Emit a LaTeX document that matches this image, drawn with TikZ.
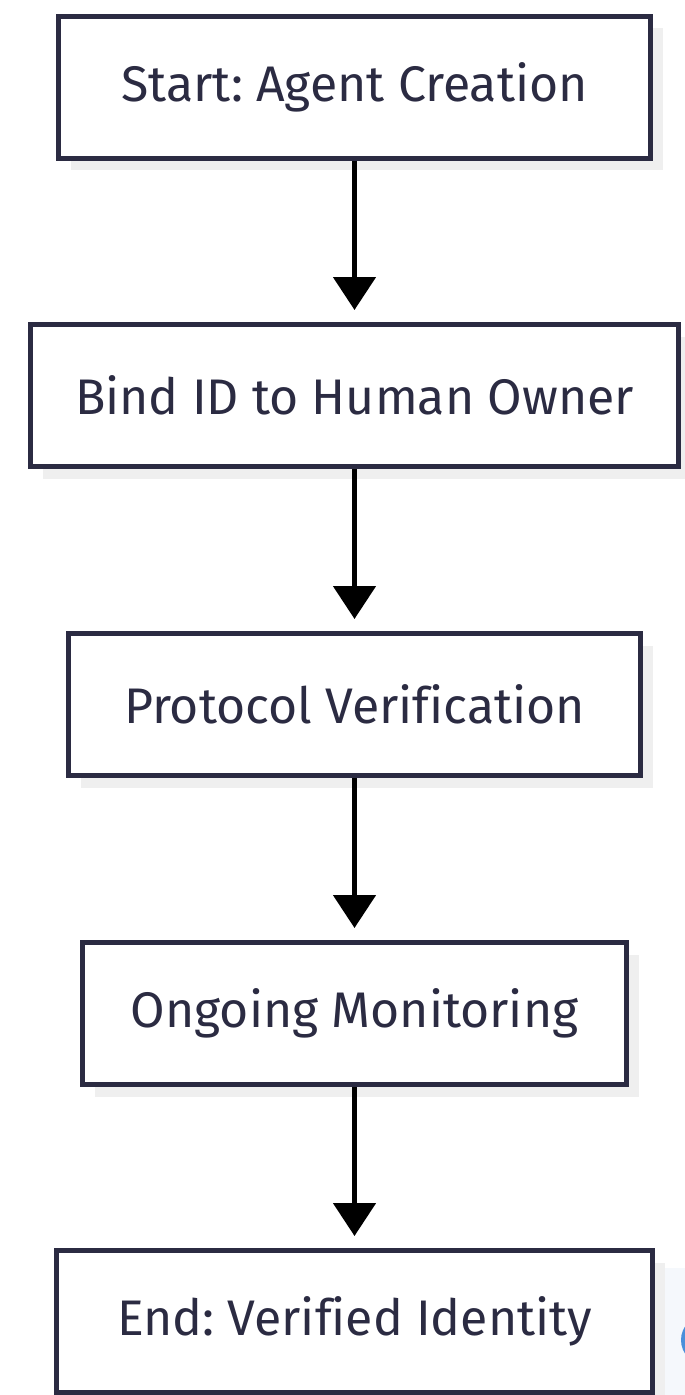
\documentclass[tikz,border=0pt]{standalone}
\usepackage{fontspec}
\setmainfont[Ligatures=NoCommon]{Fira Sans}
\frenchspacing
\usetikzlibrary{arrows.meta,shadows}
\definecolor{ink}{HTML}{2B2B42}
\definecolor{shadowgray}{HTML}{EFEFEF}
\definecolor{panel}{HTML}{F5F8FC}
\definecolor{badge}{HTML}{4A8FDA}
\tikzset{
  stepbox/.style={draw=ink, line width=5pt, fill=white, text=ink,
    font=\fontsize{50}{56}\selectfont, minimum height=142pt, inner sep=0pt,
    drop shadow={shadow xshift=12pt, shadow yshift=-12pt, fill=shadowgray, opacity=1}},
  flow/.style={line width=5pt, black, -{Triangle[width=42pt,length=33pt]}, shorten >=12pt}
}
\begin{document}
\begin{tikzpicture}
\useasboundingbox (0,0) rectangle (685pt,-1395pt);
% screen-edge widget at the lower right
\begin{scope}
  \clip (0,0) rectangle (685pt,-1395pt);
  \fill[panel] (661pt,-1268pt) rectangle (700pt,-1400pt);
  \fill[badge] (706pt,-1340pt) circle (25pt);
\end{scope}
\node[stepbox, minimum width=592pt] (s1) at (354.5pt,-87pt) {Start: Agent Creation};
\node[stepbox, minimum width=648pt] (s2) at (354.5pt,-395.5pt) {Bind ID to Human Owner};
\node[stepbox, minimum width=572pt] (s3) at (354.5pt,-704.5pt) {Protocol Verification};
\node[stepbox, minimum width=544pt] (s4) at (354.5pt,-1013.5pt) {Ongoing Monitoring};
\node[stepbox, minimum width=596pt] (s5) at (354.5pt,-1321.5pt) {End: Verified Identity};
\draw[flow] (s1) -- (s2);
\draw[flow] (s2) -- (s3);
\draw[flow] (s3) -- (s4);
\draw[flow] (s4) -- (s5);
\end{tikzpicture}
\end{document}
